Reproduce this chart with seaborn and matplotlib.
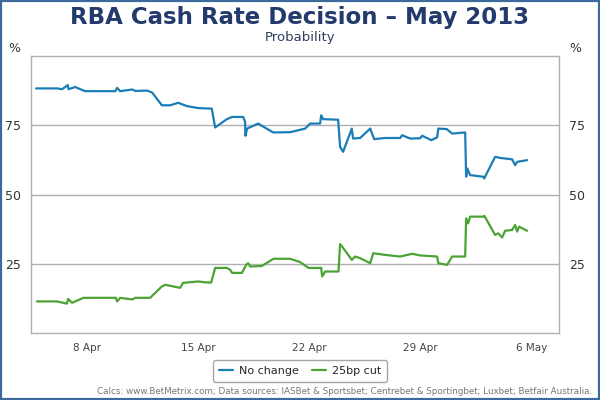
import numpy as np
import pandas as pd
import matplotlib
matplotlib.use("Agg")
import matplotlib.pyplot as plt
import matplotlib.dates as mdates
from matplotlib.patches import Rectangle
import seaborn as sns

# Day of April (fractional; 31+ is May) and probability in %
no_change_day = [4.78, 6.11, 6.42, 6.78, 6.82, 7.24, 7.87, 9.77, 9.89, 10.08, 10.84, 11.03,
                 11.78, 12.10, 12.71, 13.23, 13.74, 14.30, 15.00, 15.86, 16.07, 16.81, 17.14,
                 17.84, 17.96, 17.98, 18.09, 18.78, 19.73, 20.80, 21.75, 22.06, 22.69, 22.76,
                 22.88, 23.83, 23.95, 24.14, 24.69, 24.77, 25.22, 25.85, 26.10, 26.79, 27.74,
                 27.86, 28.37, 29.00, 29.13, 29.50, 29.70, 30.07, 30.15, 30.68, 31.02, 31.84,
                 31.90, 31.97, 32.15, 32.99, 33.04, 33.73, 34.05, 34.80, 34.99, 35.12, 35.75]
no_change_pct = [88.3, 88.3, 88.0, 89.5, 88.0, 88.8, 87.3, 87.3, 88.5, 87.3, 87.9, 87.4,
                 87.5, 86.8, 82.2, 82.2, 83.1, 81.9, 81.2, 81.0, 74.2, 77.2, 78.0,
                 78.0, 76.2, 71.2, 73.8, 75.6, 72.4, 72.5, 73.8, 75.6, 75.6, 78.6,
                 77.2, 77.0, 67.2, 65.4, 73.8, 70.2, 70.4, 73.8, 70.0, 70.4, 70.4,
                 71.4, 70.2, 70.3, 71.2, 70.2, 69.6, 70.6, 73.8, 73.6, 72.0, 72.4,
                 56.4, 59.4, 57.0, 56.4, 55.8, 63.6, 63.2, 62.7, 60.6, 61.8, 62.4]

cut_day = [4.83, 6.09, 6.72, 6.80, 7.05, 7.77, 9.81, 9.89, 10.08, 10.84, 11.03, 11.78,
           11.97, 12.71, 12.92, 13.86, 14.05, 15.00, 15.44, 15.82, 16.07, 16.81, 17.02,
           17.14, 17.76, 18.03, 18.15, 18.28, 19.02, 19.75, 20.80, 21.43, 21.96, 22.76,
           22.82, 23.01, 23.85, 23.95, 24.08, 24.69, 24.90, 25.22, 25.85, 26.04, 26.79,
           27.74, 28.50, 29.00, 30.07, 30.15, 30.70, 31.02, 31.84, 31.90, 32.03, 32.15,
           32.99, 33.05, 33.73, 33.92, 34.17, 34.36, 34.80, 34.99, 35.12, 35.24, 35.75]
cut_pct = [11.4, 11.4, 10.6, 12.3, 10.9, 12.7, 12.7, 11.4, 12.7, 12.1, 12.7, 12.7,
           12.7, 16.8, 17.4, 16.3, 18.1, 18.6, 18.3, 18.2, 23.5, 23.5, 22.8,
           21.7, 21.7, 24.6, 25.2, 24.0, 24.2, 26.8, 26.8, 25.6, 23.5, 23.5,
           20.4, 22.2, 22.2, 32.1, 31.2, 26.4, 27.6, 27.0, 25.2, 28.8, 28.2,
           27.6, 28.6, 28.0, 27.6, 25.2, 24.6, 27.6, 27.6, 41.4, 39.6, 42.0,
           42.0, 42.3, 35.4, 36.0, 34.5, 36.9, 37.2, 39.0, 36.6, 38.4, 36.9]

series_names = ["No change", "25bp cut"]
x_ticks = ["2013-04-08", "2013-04-15", "2013-04-22", "2013-04-29", "2013-05-06"]
y_ticks = [25, 50, 75]


def to_time(days):
    return pd.Timestamp("2013-04-01") + pd.to_timedelta(np.array(days) - 1, unit="D")


df = pd.concat([
    pd.DataFrame({"time": to_time(no_change_day), "pct": no_change_pct, "series": series_names[0]}),
    pd.DataFrame({"time": to_time(cut_day), "pct": cut_pct, "series": series_names[1]}),
])

sns.set_style("white")
plt.rcParams["font.family"] = ["DejaVu Sans"]

fig = plt.figure(figsize=(6, 4), dpi=100)
ax = fig.add_axes([0.052, 0.1675, 0.88, 0.6925])

sns.lineplot(data=df, x="time", y="pct", hue="series", palette=["#1a7db6", "#4ba333"],
             linewidth=1.6, estimator=None, sort=False, ax=ax, legend=True)

ax.set_ylim(0, 100)
ax.set_xlim(to_time([4.47])[0], to_time([37.77])[0])
ax.set_yticks(y_ticks)
ax.set_xticks(pd.to_datetime(x_ticks))
ax.xaxis.set_major_formatter(mdates.DateFormatter("%-d %b"))
ax.yaxis.grid(True, color="#b0b0b0", linewidth=1)
ax.set_xlabel("")
ax.set_ylabel("")
for s in ax.spines.values():
    s.set_color("#b0b0b0")
    s.set_linewidth(1)
ax.tick_params(axis="y", length=0, labelsize=9, labelcolor="#333333", labelright=True, pad=7)
ax.tick_params(axis="x", length=5, color="#b0b0b0", labelsize=7.5, labelcolor="#444444", pad=2)

handles, labels = ax.get_legend_handles_labels()
ax.get_legend().remove()
fig.legend(handles, labels, loc="center", bbox_to_anchor=(0.5, 0.0725), ncol=2,
           fontsize=8, frameon=True, fancybox=True, edgecolor="#909090",
           handlelength=1.3, handletextpad=0.5, columnspacing=1.2, borderpad=0.5)

fig.text(0.5, 0.94, "RBA Cash Rate Decision – May 2013", ha="center", va="baseline",
         fontsize=16.5, fontweight="bold", color="#233a6c")
fig.text(0.5, 0.8975, "Probability", ha="center", va="baseline", fontsize=9.5, color="#2e3f5f")
fig.text(0.024, 0.88, "%", ha="center", va="center", fontsize=9, color="#333333")
fig.text(0.958, 0.88, "%", ha="center", va="center", fontsize=9, color="#333333")
fig.text(0.987, 0.02, "Calcs: www.BetMetrix.com; Data sources: IASBet & Sportsbet; Centrebet & "
         "Sportingbet; Luxbet; Betfair Australia.", ha="right", va="center",
         fontsize=6.3, color="#777777")

fig.patches.append(Rectangle((0, 0), 1, 1, transform=fig.transFigure, fill=False,
                             edgecolor="#3b6a9c", linewidth=3))

fig.savefig("out.png", dpi=100)
